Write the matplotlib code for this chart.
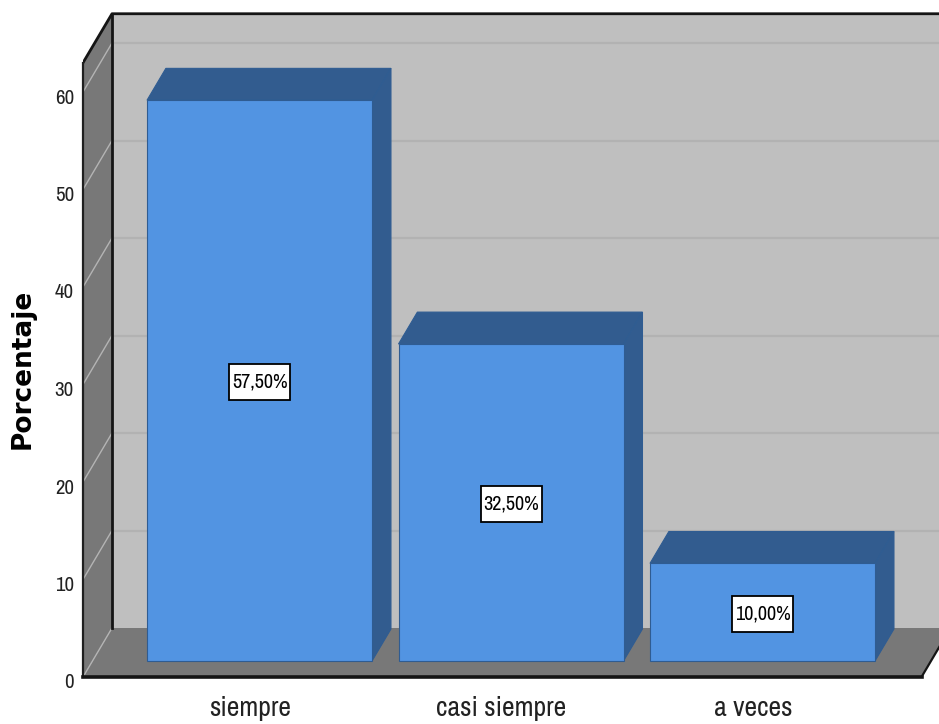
"""
Bar chart of Porcentaje with the old SPSS style 3D box look.
"""

import matplotlib
matplotlib.use("Agg")
import matplotlib.pyplot as plt
from matplotlib.patches import Rectangle
from matplotlib.transforms import ScaledTranslation

plt.rcParams["font.family"] = ["Archivo Narrow", "Liberation Sans"]

categorias = ["siempre", "casi siempre", "a veces"]
porcentajes = [57.5, 32.5, 10.0]
etiquetas = ["57,50%", "32,50%", "10,00%"]
yticks = [0, 10, 20, 30, 40, 50, 60]

# Oblique projection: how far the back of the box moves, in data units
x_unit = 251.5  # pixels per category
y_unit = 9.75   # pixels per percent
depth_x = 29 / x_unit
depth_y = 49 / y_unit
bar_front = 0.33
bar_back = 0.98
bar_width = 0.895
y_top = 63
x_left, x_right = -0.664, 2.67

WALL = "#bfbfbf"
SIDE = "#787878"
GRID = "#b2b2b2"
FRONT = "#5294e2"
DARK = "#325c8f"
EDGE = "#2f5c92"


def box(x, y, depth):
    return x + depth * depth_x, y + depth * depth_y


fig = plt.figure(figsize=(9.39, 7.24), dpi=100)
ax = fig.add_axes([83 / 939, 47 / 724, 856 / 939, 677 / 724])
ax.set_xlim(x_left, x_left + 856 / x_unit)
ax.set_ylim(0, 677 / y_unit)
ax.set_facecolor("white")

# Back wall, floor and left wall
bx, by = box(x_left, 0, 1)
ax.fill([bx, 4, 4, bx], [by, by, by + y_top, by + y_top], color=WALL, lw=0, zorder=1)
ax.fill([x_left, x_right, x_right + depth_x, bx], [0, 0, depth_y, depth_y], color=SIDE, lw=0, zorder=2)
ax.fill([x_left, bx, bx, x_left], [0, depth_y, depth_y + y_top, y_top], color=SIDE, lw=0, zorder=2)

for t in yticks[1:]:
    ax.plot([bx, 4], [t + depth_y, t + depth_y], color=GRID, lw=1.6, zorder=1.5)
for t in yticks:
    ax.plot([x_left, bx], [t, t + depth_y], color="#b4b4b4", lw=1.0, zorder=3)

# Dark box edges
ax.plot([bx, bx], [depth_y, depth_y + y_top], color="#151515", lw=2.0, zorder=4)
ax.plot([x_left, bx, 4], [y_top, depth_y + y_top, depth_y + y_top], color="#151515", lw=2.0, zorder=4)
ax.plot([x_right, x_right + depth_x], [0, depth_y], color="#151515", lw=1.6, zorder=4)

# Bars
for i, valor in enumerate(porcentajes):
    x0, y0 = box(i - bar_width / 2, 0, bar_front)
    x1, y1 = box(i + bar_width / 2, valor, bar_front)
    x2, y2 = box(i + bar_width / 2, valor, bar_back)
    x3, y3 = box(i - bar_width / 2, valor, bar_back)
    x4, y4 = box(i + bar_width / 2, 0, bar_back)
    ax.fill([x0, x1, x2, x3], [y1, y1, y2, y3], facecolor=DARK, edgecolor=EDGE, lw=0.8, zorder=5)
    ax.fill([x1, x4, x2, x1], [y0, y4, y2, y1], facecolor=DARK, edgecolor=EDGE, lw=0.8, zorder=5)
    ax.bar(x0 + bar_width / 2, valor, bar_width, bottom=y0, color=FRONT, edgecolor=EDGE, lw=0.8, zorder=6)

    # Value label in a white box, a bit under the middle of the bar
    cx = x0 + bar_width / 2
    cy = y0 + valor / 2 - 1.5 / y_unit
    w, h = 61 / x_unit, 36 / y_unit
    ax.add_patch(Rectangle((cx - w / 2, cy - h / 2), w, h, facecolor="white", edgecolor="black",
                           lw=1.3, zorder=7))
    ax.text(cx, cy, etiquetas[i], ha="center", va="center", fontsize=14.5, color="black", zorder=8)

# Axes
for side in ["top", "right"]:
    ax.spines[side].set_visible(False)
ax.spines["bottom"].set_bounds(x_left, x_right)
ax.spines["bottom"].set_linewidth(2.6)
ax.spines["bottom"].set_color("#151515")
ax.spines["bottom"].set_zorder(8)
ax.spines["left"].set_bounds(0, y_top)
ax.spines["left"].set_linewidth(1.6)
ax.spines["left"].set_color("#202020")
ax.spines["left"].set_zorder(8)

ax.set_yticks(yticks)
ax.set_xticks(range(len(categorias)))
ax.set_xticklabels(categorias, fontsize=20, color="#222222")
ax.tick_params(axis="x", length=0, pad=14)
ax.tick_params(axis="y", length=0, pad=6.5, labelsize=15, labelcolor="#222222")

shift = ScaledTranslation(0, -4 / 100, fig.dpi_scale_trans)
for label in ax.get_yticklabels():
    label.set_transform(label.get_transform() + shift)

fig.text(23 / 939, 1 - 369 / 724, "Porcentaje", rotation=90, ha="center", va="center",
         fontsize=19, fontweight="bold", family="DejaVu Sans", color="black")

fig.savefig("out.png", dpi=100)
